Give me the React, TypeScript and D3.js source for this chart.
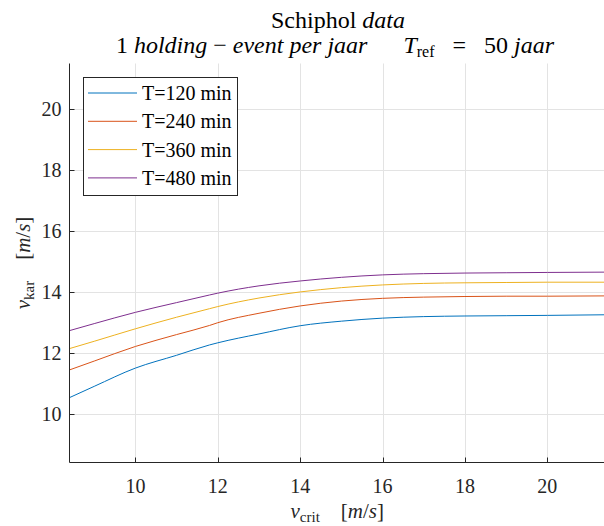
import React from "react";
import * as d3 from "d3";

const xVals = [8.4, 9, 10, 11, 11.8, 12, 13, 14, 15, 16, 17, 18, 19, 20, 21.4];
const t120 = [10.53, 10.9, 11.5, 11.92, 12.26, 12.33, 12.62, 12.89, 13.04, 13.14, 13.19, 13.21, 13.22, 13.23, 13.25];
const t240 = [11.44, 11.73, 12.21, 12.6, 12.9, 12.99, 13.3, 13.54, 13.7, 13.79, 13.83, 13.85, 13.86, 13.86, 13.87];
const t360 = [12.14, 12.38, 12.79, 13.17, 13.45, 13.52, 13.8, 14.0, 14.14, 14.23, 14.28, 14.3, 14.31, 14.32, 14.32];
const t480 = [12.73, 12.96, 13.33, 13.65, 13.9, 13.96, 14.2, 14.36, 14.48, 14.56, 14.6, 14.62, 14.63, 14.64, 14.65];
const seriesNames = ["T=120 min", "T=240 min", "T=360 min", "T=480 min"];
const seriesColors = ["#0072BD", "#D95319", "#EDB120", "#7E2F8E"];
const xTicks = [10, 12, 14, 16, 18, 20];
const yTicks = [10, 12, 14, 16, 18, 20];

const AX = "#262626";
const CSS = "svg text, svg tspan { font-family: 'Liberation Serif', 'Times New Roman', serif !important; }";

export default function App() {
  const W = 604, H = 526;
  const left = 69.5, right = 605, top = 63.5, bottom = 462.5;
  const x = d3.scaleLinear().domain([8.4, 21.4]).range([left, right]);
  const y = d3.scaleLinear().domain([8.4, 21.5]).range([bottom, top]);
  const series = [t120, t240, t360, t480];
  const line = d3.line<number>().x((_, i) => x(xVals[i])).y((d) => y(d)).curve(d3.curveMonotoneX);
  const fs = 20;
  const legX = 83.5, legY = 77.5, legW = 154, legH = 118;
  return (
    <svg width={W} height={H} style={{ position: "absolute", left: 0, top: 0 }}>
      <style>{CSS}</style>
      <rect x={0} y={0} width={W} height={H} fill="#fff" />
      {xTicks.map((t) => (
        <line key={"gx" + t} x1={Math.round(x(t)) + 0.5} x2={Math.round(x(t)) + 0.5} y1={top} y2={bottom} stroke="#e3e3e3" strokeWidth={1} />
      ))}
      {yTicks.map((t) => (
        <line key={"gy" + t} x1={left} x2={right} y1={Math.round(y(t)) + 0.5} y2={Math.round(y(t)) + 0.5} stroke="#e3e3e3" strokeWidth={1} />
      ))}
      <defs>
        <clipPath id="clip">
          <rect x={left} y={top} width={right - left} height={bottom - top} />
        </clipPath>
      </defs>
      <g clipPath="url(#clip)">
        {series.map((s, i) => (
          <path key={i} d={line(s) || ""} fill="none" stroke={seriesColors[i]} strokeWidth={1} />
        ))}
      </g>
      <line x1={left} x2={left} y1={top} y2={bottom} stroke={AX} strokeWidth={1} />
      <line x1={left} x2={right} y1={bottom} y2={bottom} stroke={AX} strokeWidth={1} />
      {xTicks.map((t) => (
        <g key={"xt" + t}>
          <line x1={Math.round(x(t)) + 0.5} x2={Math.round(x(t)) + 0.5} y1={bottom} y2={bottom - 5} stroke={AX} />
          <text x={x(t)} y={bottom + 30} textAnchor="middle" fontSize={fs} fill={AX} fontFamily="Liberation Serif">{t}</text>
        </g>
      ))}
      {yTicks.map((t) => (
        <g key={"yt" + t}>
          <line x1={left} x2={left + 5} y1={Math.round(y(t)) + 0.5} y2={Math.round(y(t)) + 0.5} stroke={AX} />
          <text x={left - 8} y={y(t) + 7} textAnchor="end" fontSize={fs} fill={AX} fontFamily="Liberation Serif">{t}</text>
        </g>
      ))}
      <text x={(left + right) / 2} y={518} textAnchor="middle" fontSize={21} fill={AX} fontFamily="Liberation Serif">
        <tspan fontStyle="italic">v</tspan>
        <tspan fontSize={15} dy={4}>crit</tspan>
        <tspan dy={-4}>{"\u2002\u2002["}</tspan>
        <tspan fontStyle="italic">m</tspan>
        <tspan>/</tspan>
        <tspan fontStyle="italic">s</tspan>
        <tspan>]</tspan>
      </text>
      <text transform={`translate(30, ${(top + bottom) / 2}) rotate(-90)`} textAnchor="middle" fontSize={21} fill={AX} fontFamily="Liberation Serif">
        <tspan fontStyle="italic">v</tspan>
        <tspan fontSize={15} dy={4}>kar</tspan>
        <tspan dy={-4}>{"\u2002\u2002["}</tspan>
        <tspan fontStyle="italic">m</tspan>
        <tspan>/</tspan>
        <tspan fontStyle="italic">s</tspan>
        <tspan>]</tspan>
      </text>
      <text x={338} y={28} textAnchor="middle" fontSize={24} fill="#000" fontFamily="Liberation Serif">
        <tspan>Schiphol </tspan>
        <tspan fontStyle="italic">data</tspan>
      </text>
      <text x={335} y={53} textAnchor="middle" fontSize={24} fill="#000" fontFamily="Liberation Serif">
        <tspan>1 </tspan>
        <tspan fontStyle="italic">holding</tspan>
        <tspan>{" \u2212 "}</tspan>
        <tspan fontStyle="italic">event per jaar</tspan>
        <tspan>{"\u2003\u2002"}</tspan>
        <tspan fontStyle="italic">T</tspan>
        <tspan fontSize={16} dy={4}>ref</tspan>
        <tspan dy={-4}>{" \u2002=\u2002 50 "}</tspan>
        <tspan fontStyle="italic">jaar</tspan>
      </text>
      <rect x={legX} y={legY} width={legW} height={legH} fill="#fff" stroke={AX} strokeWidth={1} />
      {seriesNames.map((n, i) => {
        const ry = 93 + i * 28.3;
        return (
          <g key={n}>
            <line x1={88} x2={137} y1={ry} y2={ry} stroke={seriesColors[i]} strokeWidth={1} />
            <text x={142} y={ry + 7} fontSize={fs} fill="#000" fontFamily="Liberation Serif">{n}</text>
          </g>
        );
      })}
    </svg>
  );
}
